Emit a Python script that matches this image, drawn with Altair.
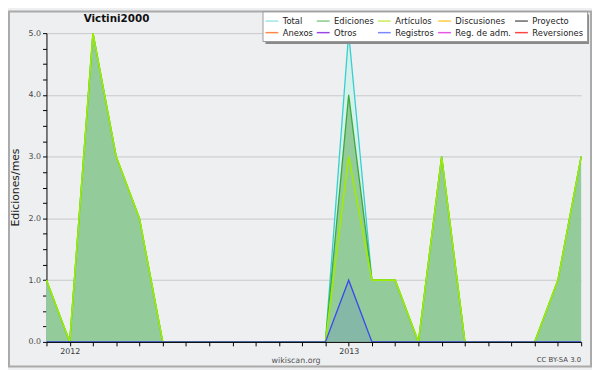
import altair as alt
import pandas as pd

# ---- data ----
months = ["2011-12", "2012-01", "2012-02", "2012-03", "2012-04", "2012-05",
          "2012-06", "2012-07", "2012-08", "2012-09", "2012-10", "2012-11",
          "2012-12", "2013-01", "2013-02", "2013-03", "2013-04", "2013-05",
          "2013-06", "2013-07", "2013-08", "2013-09", "2013-10", "2013-11"]
total =     [1, 0, 5, 3, 2, 0, 0, 0, 0, 0, 0, 0, 0, 5, 1, 1, 0, 3, 0, 0, 0, 0, 1, 3]
ediciones = [1, 0, 5, 3, 2, 0, 0, 0, 0, 0, 0, 0, 0, 4, 1, 1, 0, 3, 0, 0, 0, 0, 1, 3]
articulos = [1, 0, 5, 3, 2, 0, 0, 0, 0, 0, 0, 0, 0, 3, 1, 1, 0, 3, 0, 0, 0, 0, 1, 3]
registros = [0, 0, 0, 0, 0, 0, 0, 0, 0, 0, 0, 0, 0, 1, 0, 0, 0, 0, 0, 0, 0, 0, 0, 0]

series_names = ["Total", "Ediciones", "Artículos", "Discusiones", "Proyecto",
                "Anexos", "Otros", "Registros", "Reg. de adm.", "Reversiones"]
legend_colors = ["#9fe6e6", "#86cc86", "#c9ec55", "#ffcc44", "#666666",
                 "#ff8844", "#9a44e6", "#7a88ff", "#e655e6", "#ff4444"]

chart_title = "Victini2000"
y_title = "Ediciones/mes"
footer_text = "wikiscan.org"
license_text = "CC BY-SA 3.0"

BG = "#eeeff1"
FONT = "DejaVu Sans"

df = pd.DataFrame({
    "i": list(range(len(months))),
    "month": months,
    "Total": total,
    "Ediciones": ediciones,
    "Articulos": articulos,
    "Registros": registros,
})

# x labels: only on January (year)
year_labels = {i: m[:4] for i, m in enumerate(months) if m.endswith("-01")}
label_expr = " : ".join(
    [f"datum.value == {i} ? '{y}'" for i, y in year_labels.items()] + ["''"]
)

x_axis = alt.Axis(
    values=list(range(len(months))), labelExpr=label_expr, title=None,
    grid=False, tickSize=4, tickColor="black", domainColor="black",
    labelFont=FONT, labelFontSize=8, labelColor="#333", labelPadding=2,
    labelFlush=False, labelOverlap=False, zindex=1,
)
y_axis = alt.Axis(
    values=[v / 4 for v in range(0, 21)],
    labelExpr="datum.value % 1 === 0 ? format(datum.value, '.1f') : ''",
    title=y_title, titleFont=FONT, titleFontSize=11, titleFontWeight="normal",
    titleColor="#222", titleX=-31, titleY=156, titleAngle=270,
    titleAlign="center", titleBaseline="middle",
    grid=True, gridColor="#c8c8c8", gridWidth=1,
    gridOpacity=alt.condition("datum.value % 1 === 0", alt.value(1), alt.value(0)),
    tickSize=4, tickColor="black", domainColor="black",
    labelFont=FONT, labelFontSize=8, labelColor="#444", labelPadding=2,
    labelOverlap=False,
)

x_scale = alt.Scale(domain=[0, len(months) - 1], nice=False, zero=False)
y_scale = alt.Scale(domain=[0, 5], nice=False)


def X():
    return alt.X("i:Q", scale=x_scale, axis=x_axis)


def Y(field):
    return alt.Y(f"{field}:Q", scale=y_scale, axis=y_axis)


base = alt.Chart(df)

area_total = base.mark_area(fill="#d5f1ec").encode(x=X(), y=Y("Total"))
area_ed = base.mark_area(fill="#93cb9b").encode(x=X(), y=Y("Ediciones"))
area_reg = base.mark_area(fill="#3a50f0", fillOpacity=0.15).encode(x=X(), y=Y("Registros"))
line_total = base.mark_line(color="#37cfcf", strokeWidth=1.3).encode(x=X(), y=Y("Total"))
line_ed = base.mark_line(color="#3aaa3a", strokeWidth=1.3).encode(x=X(), y=Y("Ediciones"))
line_art = base.mark_line(color="#a0ec00", strokeWidth=1.6).encode(x=X(), y=Y("Articulos"))
line_reg = base.mark_line(color="#3a48ee", strokeWidth=1.3).encode(x=X(), y=Y("Registros"))

# legend layer (no visible marks; legend from the colour scale)
legend_df = pd.DataFrame({"serie": series_names, "i": [0] * len(series_names),
                          "v": [None] * len(series_names)})
legend_layer = alt.Chart(legend_df).mark_line().encode(
    x=X(), y=Y("v"),
    color=alt.Color(
        "serie:N",
        scale=alt.Scale(domain=series_names, range=legend_colors),
        legend=alt.Legend(
            title=None, orient="none", legendX=219, legendY=-22, columns=5,
            direction="horizontal", gridAlign="each",
            symbolType="M-1.3,0H1.3", symbolSize=100, symbolStrokeWidth=1.5,
            labelFont=FONT, labelFontSize=8.5, labelColor="#222",
            fillColor="white", strokeColor="#999999", padding=3.5,
            columnPadding=0, rowPadding=1, labelOffset=5,
        ),
    ),
)

one = alt.Chart(pd.DataFrame({"a": [0]}))
shadow = one.mark_rect(color="#8a8a8a").encode(
    x=alt.value(222), x2=alt.value(550), y=alt.value(-19), y2=alt.value(11))
frame = one.mark_rect(fillOpacity=0, stroke="#aaaaaa", strokeWidth=2).encode(
    x=alt.value(-38), x2=alt.value(552), y=alt.value(-22), y2=alt.value(338))
title_mark = one.mark_text(text=chart_title, font=FONT, fontSize=10.5,
                           fontWeight="bold", color="#111", baseline="alphabetic").encode(
    x=alt.value(71), y=alt.value(-11))
footer_mark = one.mark_text(text=footer_text, font=FONT, fontSize=8,
                            color="#555", baseline="alphabetic").encode(
    x=alt.value(253), y=alt.value(334))
license_mark = one.mark_text(text=license_text, font=FONT, fontSize=7,
                             color="#444", align="right", baseline="alphabetic").encode(
    x=alt.value(542), y=alt.value(333))

chart = alt.layer(
    area_total, area_ed, area_reg, line_total, line_ed, line_art, line_reg,
    legend_layer, shadow, frame, title_mark, footer_mark, license_mark,
).properties(
    width=542, height=313,
    autosize=alt.AutoSizeParams(type="none"),
    padding={"left": 39, "top": 23, "right": 11, "bottom": 26},
    background=BG,
).configure_view(stroke=None, fill=BG)

chart.save("out.html", embed_options={"renderer": "svg", "actions": False})
